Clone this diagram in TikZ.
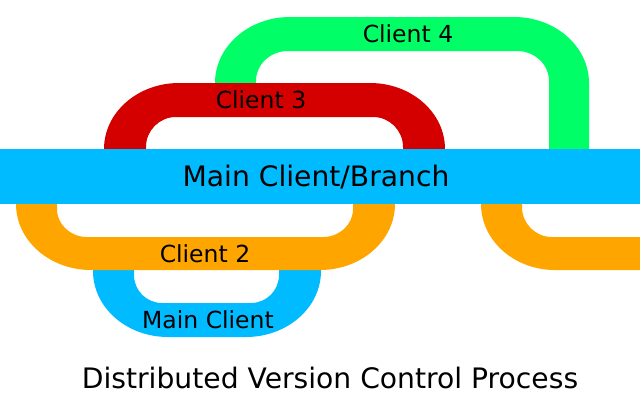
\documentclass[tikz,border=0pt]{standalone}
\usepackage{fontspec}
\setmainfont{DejaVu Sans}
\definecolor{cgreen}{HTML}{00FF66}
\definecolor{cred}{HTML}{D40000}
\definecolor{ccyan}{HTML}{00BBFF}
\definecolor{corange}{HTML}{FFA500}
\begin{document}
\begin{tikzpicture}[x=1pt,y=-1pt,
  lbl/.style={anchor=base,inner sep=0pt,font=\fontsize{23.5}{26}\selectfont},
  big/.style={anchor=base,inner sep=0pt,font=\fontsize{28.2}{32}\selectfont}]
\useasboundingbox (0,0) rectangle (640,400);
% Client 4 (green arch)
\fill[cgreen] (215,100) -- (215,83) arc[start angle=180,end angle=270,x radius=75,y radius=66]
  -- (514,17) arc[start angle=270,end angle=360,x radius=75,y radius=66]
  -- (589,160) -- (549,160) -- (549,81) arc[start angle=0,end angle=-90,x radius=32,y radius=30]
  -- (288,51) arc[start angle=-90,end angle=-180,x radius=32,y radius=30]
  -- (256,100) -- cycle;
% Client 3 (red arch)
\fill[cred] (104,160) -- (104,149) arc[start angle=180,end angle=270,x radius=75,y radius=66]
  -- (370,83) arc[start angle=270,end angle=360,x radius=75,y radius=66]
  -- (445,160) -- (403,160) -- (403,147) arc[start angle=0,end angle=-90,x radius=30,y radius=30]
  -- (176,117) arc[start angle=-90,end angle=-180,x radius=30,y radius=30]
  -- (146,160) -- cycle;
% Main Client (cyan cup)
\fill[ccyan] (93,255) -- (93,271) arc[start angle=180,end angle=90,x radius=75,y radius=66]
  -- (246,337) arc[start angle=90,end angle=0,x radius=75,y radius=66]
  -- (321,255) -- (279,255) -- (279,275) arc[start angle=0,end angle=90,x radius=28,y radius=28]
  -- (162,303) arc[start angle=90,end angle=180,x radius=28,y radius=28]
  -- (134,255) -- cycle;
% Client 2 (orange cup)
\fill[corange] (16,195) -- (16,204) arc[start angle=180,end angle=90,x radius=75,y radius=66]
  -- (320,270) arc[start angle=90,end angle=0,x radius=75,y radius=66]
  -- (395,195) -- (353,195) -- (353,209) arc[start angle=0,end angle=90,x radius=30,y radius=28]
  -- (87,237) arc[start angle=90,end angle=180,x radius=30,y radius=28]
  -- (57,195) -- cycle;
% right orange hook
\fill[corange] (481,195) -- (481,204) arc[start angle=180,end angle=90,x radius=74,y radius=66]
  -- (645,270) -- (645,237) -- (552,237) arc[start angle=90,end angle=180,x radius=30,y radius=30]
  -- (522,195) -- cycle;
% main bar
\fill[ccyan] (0,149) rectangle (640,204);
\node[big] (mb) at (316,186) {Main Client/Branch};
\node[lbl] (c4) at (408,42) {Client 4};
\node[lbl] (c3) at (261,108) {Client 3};
\node[lbl] (c2) at (205,262) {Client 2};
\node[lbl] (mc) at (208,328) {Main Client};
\node[big] (title) at (330,388) {Distributed Version Control Process};
\end{tikzpicture}
\end{document}
